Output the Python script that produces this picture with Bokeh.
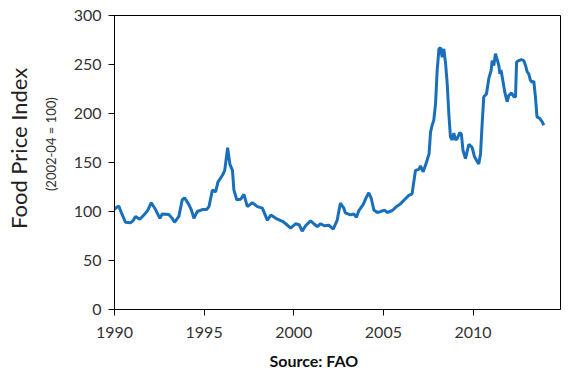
from bokeh.plotting import figure
from bokeh.models import LinearAxis, FixedTicker, Range1d, Title
from bokeh.embed import file_html
from bokeh.resources import INLINE

years = [
    1990.00, 1990.10, 1990.24, 1990.40, 1990.61, 1990.89, 1991.05, 1991.17, 1991.41, 1991.64,
    1991.85, 1992.05, 1992.29, 1992.53, 1992.66, 1993.03, 1993.22, 1993.35, 1993.59, 1993.78,
    1993.91, 1994.15, 1994.28, 1994.43, 1994.62, 1994.90, 1995.14, 1995.27, 1995.46, 1995.64,
    1995.77, 1996.02, 1996.15, 1996.26, 1996.31, 1996.44, 1996.58, 1996.66, 1996.82, 1997.04,
    1997.22, 1997.41, 1997.69, 1997.97, 1998.25, 1998.53, 1998.72, 1999.00, 1999.37, 1999.55,
    1999.83, 2000.10, 2000.30, 2000.47, 2000.66, 2000.94, 2001.12, 2001.31, 2001.50, 2001.70,
    2001.96, 2002.20, 2002.42, 2002.60, 2002.79, 2002.88, 2003.16, 2003.35, 2003.50, 2003.63,
    2003.87, 2004.06, 2004.19, 2004.32, 2004.47, 2004.66, 2004.85, 2005.06, 2005.21, 2005.50,
    2005.73, 2005.96, 2006.23, 2006.42, 2006.60, 2006.79, 2006.98, 2007.07, 2007.22, 2007.40,
    2007.55, 2007.63, 2007.72, 2007.81, 2007.91, 2008.00, 2008.10, 2008.19, 2008.28, 2008.37,
    2008.47, 2008.56, 2008.65, 2008.74, 2008.84, 2008.93, 2009.02, 2009.12, 2009.26, 2009.35,
    2009.44, 2009.58, 2009.67, 2009.77, 2009.95, 2010.08, 2010.23, 2010.32, 2010.42, 2010.51,
    2010.60, 2010.75, 2010.88, 2011.01, 2011.07, 2011.16, 2011.25, 2011.35, 2011.44, 2011.50,
    2011.56, 2011.68, 2011.77, 2011.90, 2012.00, 2012.15, 2012.28, 2012.37, 2012.43, 2012.56,
    2012.69, 2012.83, 2012.93, 2013.02, 2013.11, 2013.20, 2013.30, 2013.39, 2013.48, 2013.57,
    2013.72, 2013.86, 2013.95,
]
food_price_index = [
    102, 104, 105.5, 98, 89, 88.5, 91, 95, 92, 96.5,
    101, 109, 102, 93, 97.5, 97, 93, 89, 95, 112,
    114, 107, 102, 93, 100, 102, 102, 105, 122, 120,
    130, 137, 142, 158, 165, 148, 142, 122, 112, 112.5,
    117.5, 105, 109, 105, 103.5, 91, 96.5, 93, 90, 87.5,
    83, 87.5, 86.5, 80, 85.5, 90.5, 87.5, 84.5, 87.5, 85.5,
    86, 82, 91, 108.5, 103.5, 98.5, 96.5, 97.5, 94, 101,
    107, 115, 119, 113.5, 101.5, 99, 100, 101.5, 99, 101,
    105, 108, 113, 116.5, 118, 142, 143, 146.5, 140.5, 150,
    159, 181, 188, 193, 210, 244, 266, 267, 257.5, 266,
    251, 230.5, 200, 176, 173, 180, 173, 174.5, 180.5, 179,
    162.5, 154, 161, 168.5, 165.5, 156, 151, 148.5, 159, 190,
    217, 220, 235.5, 244, 254, 249, 261, 255, 249, 240.5,
    244.5, 232, 222, 212, 218.5, 221, 217, 217, 252.5, 254,
    255, 254, 249, 242.5, 240.5, 234, 232, 233, 217, 196.5,
    195, 191.5, 188,
]
x_ticks = [1990, 1995, 2000, 2005, 2010]
y_ticks = [0, 50, 100, 150, 200, 250, 300]

FONT = "Lato"
NB = "\u00a0"

p = figure(width=568, height=377, output_backend="svg", toolbar_location=None,
           x_range=Range1d(1990, 2014.88), y_range=Range1d(0, 300),
           min_border_left=114, min_border_right=8, min_border_top=15,
           min_border_bottom=67)
p.background_fill_color = "white"
p.border_fill_color = "white"
p.outline_line_color = "black"
p.outline_line_width = 1
p.grid.visible = False

p.line(years, food_price_index, line_color="#1a6fba", line_width=3)

xa = p.xaxis[0]
xa.ticker = FixedTicker(ticks=x_ticks)
xa.major_tick_out = 6
xa.major_tick_in = 0
xa.minor_tick_out = 0
xa.minor_tick_in = 0
xa.major_label_standoff = 11
xa.major_label_text_font = FONT
xa.major_label_text_font_size = "16px"
xa.major_label_text_color = "#333333"
xa.axis_line_color = "black"

ya = p.yaxis[0]
ya.ticker = FixedTicker(ticks=y_ticks)
ya.major_tick_out = 6
ya.major_tick_in = 0
ya.minor_tick_out = 0
ya.minor_tick_in = 0
ya.major_label_standoff = 7
ya.major_label_text_font = FONT
ya.major_label_text_font_size = "16px"
ya.major_label_text_color = "#333333"
ya.axis_line_color = "black"
ya.axis_label = NB * 11 + "(2002-04 = 100)"
ya.axis_label_text_font = FONT
ya.axis_label_text_font_size = "13px"
ya.axis_label_text_font_style = "normal"
ya.axis_label_text_color = "#333333"
ya.axis_label_standoff = 12

ya2 = LinearAxis(ticker=FixedTicker(ticks=[]), axis_line_color=None,
                 major_tick_out=0, major_tick_in=0, minor_tick_out=0, minor_tick_in=0,
                 axis_label=NB * 5 + "Food Price Index", axis_label_text_font=FONT,
                 axis_label_text_font_size="22px", axis_label_text_font_style="normal",
                 axis_label_text_color="#222222", axis_label_standoff=8)
p.add_layout(ya2, "left")

src = Title(text="Source: FAO", align="left", offset=155, text_font=FONT,
            text_font_size="16px", text_font_style="bold", text_color="#111111",
            standoff=16)
p.add_layout(src, "below")

open("out.html", "w").write(file_html(p, INLINE))
